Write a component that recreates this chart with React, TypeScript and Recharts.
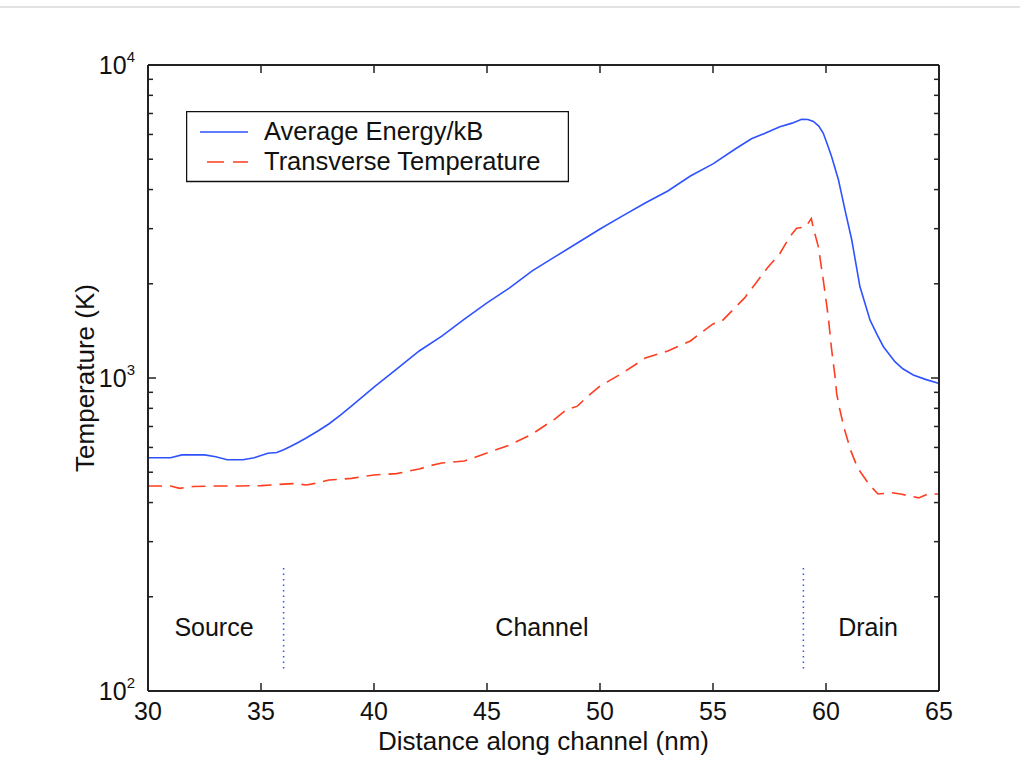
import React from "react";
import {
  LineChart,
  Line,
  XAxis,
  YAxis,
  ReferenceLine,
  ReferenceDot,
  Legend,
} from "recharts";

// ---------- data ----------
const energyX = [
  30, 31, 31.5, 32.5, 33, 33.5, 34.2, 34.7, 35.3, 35.7, 36, 36.3, 36.6, 37, 37.5, 38, 38.5, 39, 39.5,
  40, 41, 42, 43, 44, 45, 46, 47, 48, 49, 50, 51, 52, 53, 54, 55, 56, 56.7, 57.3, 57.96, 58.5, 58.92,
  59.2, 59.44, 59.68, 59.88, 60.05, 60.25, 60.55, 60.84, 61.14, 61.5, 61.95, 62.25, 62.54, 63.05,
  63.4, 63.86, 64.4, 64.97, 65,
];
const energyY = [
  556, 556, 568, 568, 560, 548, 548, 556, 575, 578, 590, 604, 620, 643, 676, 713, 760, 813, 872,
  935, 1068, 1220, 1360, 1542, 1738, 1940, 2200, 2437, 2700, 2993, 3295, 3625, 3957, 4420, 4830,
  5400, 5810, 6050, 6350, 6520, 6710, 6700, 6600, 6380, 6050, 5600, 5090, 4300, 3445, 2760, 1960,
  1530, 1380, 1259, 1128, 1070, 1023, 990, 962, 960,
];

const transverseX = [
  30, 31, 31.4, 32, 33, 34, 35, 36, 36.5, 37, 37.5, 38, 39, 40, 41, 42, 42.5, 43, 44, 45, 46, 47,
  47.5, 48, 48.5, 49, 49.5, 50, 51, 52, 53, 54, 54.5, 55, 55.4, 56.4, 57.4, 57.96, 58.4, 58.7, 59.1,
  59.35, 59.44, 59.66, 59.88, 60.1, 60.25, 60.4, 60.47, 60.6, 60.8, 61.1, 61.4, 61.9, 62.3, 62.9,
  63.3, 64.1, 64.5, 65,
];
const transverseY = [
  452, 452, 444, 450, 452, 452, 453, 458, 460, 455, 462, 472, 478, 490, 495, 512, 525, 535, 543, 576,
  611, 662, 700, 739, 790, 813, 880, 942, 1037, 1158, 1220, 1313, 1400, 1488, 1521, 1803, 2245, 2500,
  2830, 3010, 3040, 3235, 3010, 2630, 2055, 1570, 1230, 1010, 893, 800, 692, 585, 516, 458, 426, 430,
  426, 414, 426, 426,
];

const xTicks = [30, 35, 40, 45, 50, 55, 60, 65];
const yTicks = [
  100, 200, 300, 400, 500, 600, 700, 800, 900, 1000, 2000, 3000, 4000, 5000, 6000, 7000, 8000, 9000,
  10000,
];

const boundaryX = [36, 59];
const boundaryYRange = [118, 247];

const regionNames = ["Source", "Channel", "Drain"];
const regionX = [32.92, 47.43, 61.86];
const regionY = 160;

const seriesNames = ["Average Energy/kB", "Transverse Temperature"];
const xTitle = "Distance along channel (nm)";
const yTitle = "Temperature (K)";

// ---------- derived ----------
const energyData = energyX.map((x, i) => ({ x, v: energyY[i] }));
const transverseData = transverseX.map((x, i) => ({ x, v: transverseY[i] }));

const FONT = "'Liberation Sans', Arial, Helvetica, sans-serif";
const TEXT = "#111";
const BLUE = "#2f52ff";
const RED = "#ff3d1f";
const AXIS = "#222";

const isPow10 = (v: number) => Math.abs(Math.log10(v) - Math.round(Math.log10(v))) < 1e-9;

const BottomTick = (p: any) => {
  const { x, y, payload } = p;
  return (
    <g>
      <line x1={x} x2={x} y1={y} y2={y - 8} stroke={AXIS} strokeWidth={1.5} />
      <text x={x} y={y + 29} textAnchor="middle" fontSize={25} fontFamily={FONT} fill={TEXT}>
        {payload.value}
      </text>
    </g>
  );
};

const TopTick = (p: any) => {
  const { x, y } = p;
  return <line x1={x} x2={x} y1={y} y2={y + 8} stroke={AXIS} strokeWidth={1.5} />;
};

const LeftTick = (p: any) => {
  const { x, y, payload } = p;
  const v = payload.value;
  const major = isPow10(v);
  return (
    <g>
      <line x1={x} x2={x + (major ? 8 : 5)} y1={y} y2={y} stroke={AXIS} strokeWidth={1.5} />
      {major && (
        <text x={x - 13} y={y + 9} textAnchor="end" fontSize={25} fontFamily={FONT} fill={TEXT}>
          10
          <tspan dy={-12} fontSize={15}>
            {Math.round(Math.log10(v))}
          </tspan>
        </text>
      )}
    </g>
  );
};

const RightTick = (p: any) => {
  const { x, y, payload } = p;
  const major = isPow10(payload.value);
  return <line x1={x} x2={x - (major ? 8 : 5)} y1={y} y2={y} stroke={AXIS} strokeWidth={1.5} />;
};

const XTitle = (p: any) => {
  const vb = p.viewBox || {};
  return (
    <text
      x={vb.x + vb.width / 2}
      y={vb.y + 59}
      textAnchor="middle"
      fontSize={26}
      fontFamily={FONT}
      fill={TEXT}
    >
      {xTitle}
    </text>
  );
};

const YTitle = (p: any) => {
  const vb = p.viewBox || {};
  const cx = 85;
  const cy = vb.y + vb.height / 2;
  return (
    <text
      x={cx}
      y={cy}
      dy={9}
      transform={`rotate(-90, ${cx}, ${cy})`}
      textAnchor="middle"
      fontSize={26}
      fontFamily={FONT}
      fill={TEXT}
    >
      {yTitle}
    </text>
  );
};

const RegionLabel = (p: any) => {
  const vb = p.viewBox || {};
  const cx = vb.x + (vb.width || 0) / 2;
  const cy = vb.y + (vb.height || 0) / 2;
  return (
    <text x={cx} y={cy + 9} textAnchor="middle" fontSize={25} fontFamily={FONT} fill={TEXT}>
      {p.value}
    </text>
  );
};

const LegendBox = (p: any) => {
  const payload = p.payload || [];
  const rows = [
    { name: seriesNames[0], color: BLUE, dash: undefined, x1: 14 },
    { name: seriesNames[1], color: RED, dash: "17 9", x1: 21 },
  ];
  return (
    <svg width={383} height={72} style={{ display: "block" }}>
      <rect x={0.5} y={0.5} width={382} height={70} fill="#fff" stroke="#111" strokeWidth={1.5} />
      {rows.map((r, i) => {
        const item = payload[i];
        const name = item && item.value ? item.value : r.name;
        const ly = 21 + i * 30;
        return (
          <g key={i}>
            <line x1={r.x1} x2={62} y1={ly} y2={ly} stroke={r.color} strokeWidth={1.5} strokeDasharray={r.dash} />
            <text x={78} y={ly + 8} fontSize={25.5} fontFamily={FONT} fill={TEXT}>
              {name}
            </text>
          </g>
        );
      })}
    </svg>
  );
};

export default function App() {
  return (
    <div
      style={{
        position: "absolute",
        left: 0,
        top: 0,
        width: 1020,
        height: 771,
        background: "#fff",
      }}
    >
      <div
        style={{
          position: "absolute",
          left: 0,
          top: 6,
          width: 1020,
          height: 0,
          borderTop: "2px solid #e2e2e2",
        }}
      />
      <LineChart
        width={1020}
        height={771}
        margin={{ top: 55, right: 71, bottom: 40, left: 88 }}
        style={{ position: "absolute", left: 0, top: 0 }}
      >
        <XAxis
          xAxisId="b"
          type="number"
          dataKey="x"
          domain={[30, 65]}
          ticks={xTicks}
          interval={0}
          allowDataOverflow
          height={40}
          tickSize={0}
          tickMargin={0}
          tickLine={false}
          tick={<BottomTick />}
          axisLine={{ stroke: AXIS, strokeWidth: 2 }}
          label={<XTitle />}
        />
        <XAxis
          xAxisId="t"
          orientation="top"
          type="number"
          dataKey="x"
          domain={[30, 65]}
          ticks={xTicks}
          interval={0}
          allowDataOverflow
          height={10}
          tickSize={0}
          tickMargin={0}
          tickLine={false}
          tick={<TopTick />}
          axisLine={{ stroke: AXIS, strokeWidth: 2 }}
        />
        <YAxis
          yAxisId="l"
          scale="log"
          type="number"
          domain={[100, 10000]}
          ticks={yTicks}
          interval={0}
          allowDataOverflow
          width={60}
          tickSize={0}
          tickMargin={0}
          tickLine={false}
          tick={<LeftTick />}
          axisLine={{ stroke: AXIS, strokeWidth: 2 }}
          label={<YTitle />}
        />
        <YAxis
          yAxisId="r"
          orientation="right"
          scale="log"
          type="number"
          domain={[100, 10000]}
          ticks={yTicks}
          interval={0}
          allowDataOverflow
          width={10}
          tickSize={0}
          tickMargin={0}
          tickLine={false}
          tick={<RightTick />}
          axisLine={{ stroke: AXIS, strokeWidth: 2 }}
        />
        <Legend
          layout="vertical"
          align="center"
          verticalAlign="middle"
          content={<LegendBox />}
          wrapperStyle={{ left: 186, top: 111, width: 383, height: 72, position: "absolute" }}
        />
        {boundaryX.map((bx, i) => (
          <ReferenceLine
            key={`b${i}`}
            xAxisId="b"
            yAxisId="l"
            segment={[
              { x: bx, y: boundaryYRange[0] },
              { x: bx, y: boundaryYRange[1] },
            ]}
            stroke={BLUE}
            strokeWidth={1.5}
            strokeDasharray="1.5 4"
            ifOverflow="visible"
          />
        ))}
        {regionNames.map((n, i) => (
          <ReferenceDot
            key={`r${i}`}
            xAxisId="b"
            yAxisId="l"
            x={regionX[i]}
            y={regionY}
            r={0}
            fill="none"
            stroke="none"
            label={<RegionLabel value={n} />}
          />
        ))}
        <Line
          xAxisId="b"
          yAxisId="l"
          data={energyData}
          dataKey="v"
          name={seriesNames[0]}
          type="linear"
          stroke={BLUE}
          strokeWidth={1.6}
          dot={false}
          isAnimationActive={false}
        />
        <Line
          xAxisId="b"
          yAxisId="l"
          data={transverseData}
          dataKey="v"
          name={seriesNames[1]}
          type="linear"
          stroke={RED}
          strokeWidth={1.6}
          strokeDasharray="14 8"
          dot={false}
          isAnimationActive={false}
        />
      </LineChart>
    </div>
  );
}
